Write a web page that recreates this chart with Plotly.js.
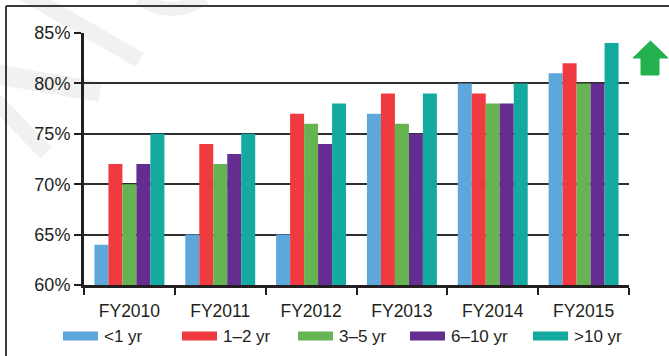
<!DOCTYPE html>
<html>
<head>
<meta charset="utf-8">
<script src="https://cdn.plot.ly/plotly-3.0.1.min.js"></script>
<style>
html,body{margin:0;padding:0;background:#fff;}
#chart{width:669px;height:356px;}
</style>
</head>
<body>
<div id="chart"></div>
<script>
// ---- data ----
var categories = ["FY2010", "FY2011", "FY2012", "FY2013", "FY2014", "FY2015"];
var seriesNames = ["<1 yr", "1\u20132 yr", "3\u20135 yr", "6\u201310 yr", ">10 yr"];
var lt1yr   = [64, 65, 65, 77, 80, 81];
var y1to2   = [72, 74, 77, 79, 79, 82];
var y3to5   = [70, 72, 76, 76, 78, 80];
var y6to10  = [72, 73, 74, 75, 78, 80];
var gt10yr  = [75, 75, 78, 79, 80, 84];
var yTickVals = [60, 65, 70, 75, 80, 85];
var yTickText = ["60%", "65%", "70%", "75%", "80%", "85%"];

var seriesValues = [lt1yr, y1to2, y3to5, y6to10, gt10yr];
var colors = ["#5EA7DA", "#EF3B3F", "#66B451", "#652D90", "#15AAA0"];

// ---- geometry helpers (pixel -> paper) ----
var W = 669, H = 356;
var M = {l: 84, r: 40, t: 33, b: 71};
var PW = W - M.l - M.r, PH = H - M.t - M.b;
function px(x) { return (x - M.l) / PW; }
function py(y) { return (H - M.b - y) / PH; }

var FONT = "Liberation Sans, Arial, Helvetica, sans-serif";
var TXT = "#231F20";

var traces = seriesNames.map(function (name, i) {
  return {
    type: "bar",
    name: name,
    x: categories,
    y: seriesValues[i],
    marker: {color: colors[i], line: {width: 0}},
    showlegend: false,
    hoverinfo: "skip"
  };
});

var shapes = [];
var annotations = [];

// watermark (faint)
var wm = "rgba(0,0,0,0.055)";
function wline(x0, y0, x1, y1, w) {
  shapes.push({type: "line", xref: "paper", yref: "paper", layer: "below",
    x0: px(x0), y0: py(y0), x1: px(x1), y1: py(y1),
    line: {color: wm, width: w}});
}
wline(22, -8, 140, 60, 16);
wline(-5, 74, 100, 92, 20);
wline(-5, 100, 46, 153, 16);
shapes.push({type: "path", xref: "paper", yref: "paper", layer: "below",
  path: "M" + px(140) + "," + py(-2) + " Q" + px(170) + "," + py(20) + " " + px(205) + "," + py(-2),
  line: {color: wm, width: 14}});

// frame (top and left)
shapes.push({type: "line", xref: "paper", yref: "paper", x0: px(6), y0: py(6), x1: px(672), y1: py(6),
  line: {color: "#3a3a3a", width: 2}});
shapes.push({type: "line", xref: "paper", yref: "paper", x0: px(6), y0: py(6), x1: px(6), y1: py(360),
  line: {color: "#3a3a3a", width: 2}});

// green up arrow
var arrowPts = [[650.5, 41], [668, 58], [659, 58], [659, 75], [641, 75], [641, 58], [633, 58]];
var arrowPath = arrowPts.map(function (p, k) { return (k ? "L" : "M") + px(p[0]) + "," + py(p[1]); }).join(" ") + " Z";
shapes.push({type: "path", xref: "paper", yref: "paper", path: arrowPath,
  fillcolor: "#22B14C", line: {color: "#22B14C", width: 1}});

// custom legend
var legendX = [63, 182, 298, 410, 533];
var legendY = 336;
seriesNames.forEach(function (name, i) {
  shapes.push({type: "rect", xref: "paper", yref: "paper",
    x0: px(legendX[i]), x1: px(legendX[i] + 35), y0: py(legendY - 4.5), y1: py(legendY + 4.5),
    fillcolor: colors[i], line: {width: 0}});
  annotations.push({xref: "paper", yref: "paper", x: px(legendX[i] + 39), y: py(legendY),
    xanchor: "left", yanchor: "middle", showarrow: false, text: name,
    font: {family: FONT, size: 17, color: TXT}});
});

var layout = {
  width: W, height: H,
  margin: M,
  paper_bgcolor: "#ffffff",
  plot_bgcolor: "rgba(0,0,0,0)",
  barmode: "group",
  bargap: 0.23,
  bargroupgap: 0,
  showlegend: false,
  font: {family: FONT, color: TXT},
  xaxis: {
    type: "category",
    tickson: "boundaries",
    ticks: "outside", ticklen: 7, tickwidth: 2, tickcolor: "#231F20",
    showline: true, linewidth: 3, linecolor: "#231F20",
    showgrid: false,
    ticklabelstandoff: 8,
    tickfont: {family: FONT, size: 17.5, color: TXT},
    fixedrange: true
  },
  yaxis: {
    range: [60, 85],
    tickvals: yTickVals, ticktext: yTickText,
    ticks: "outside", ticklen: 7, tickwidth: 2, tickcolor: "#231F20",
    showline: true, linewidth: 3, linecolor: "#231F20",
    showgrid: true, gridcolor: "#2E2E2E", gridwidth: 2,
    zeroline: false,
    tickfont: {family: FONT, size: 18, color: TXT},
    fixedrange: true
  },
  shapes: shapes,
  annotations: annotations
};

Plotly.newPlot("chart", traces, layout, {staticPlot: true, displayModeBar: false});
</script>
</body>
</html>
